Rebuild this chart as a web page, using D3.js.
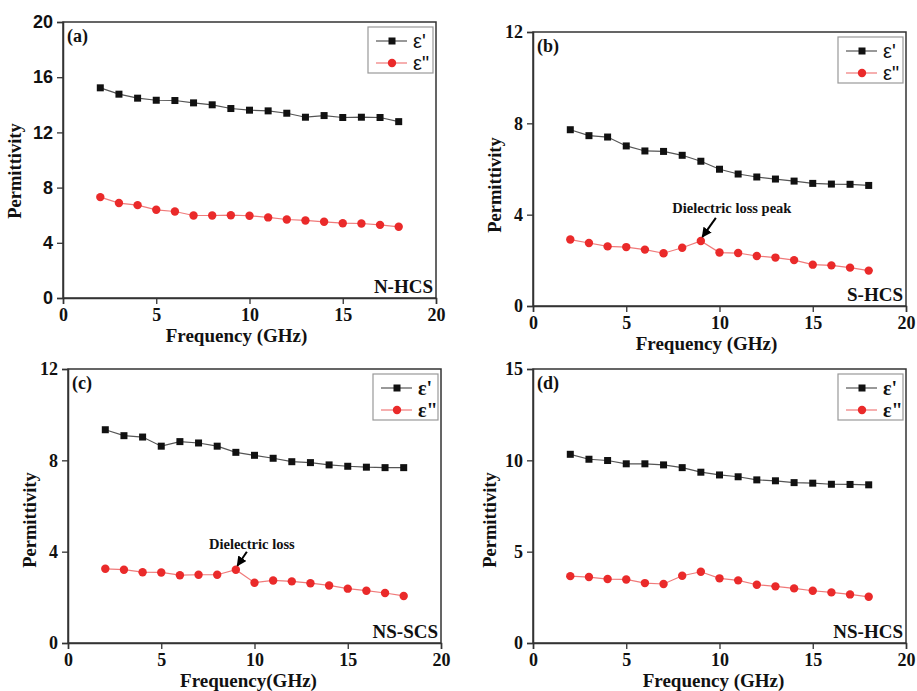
<!DOCTYPE html>
<html><head><meta charset="utf-8">
<script src="https://cdn.jsdelivr.net/npm/d3@7"></script>
<style>body{margin:0;background:#fff}svg{display:block}</style>
</head><body>
<svg id="chart" width="917" height="691"></svg>
<script>
const freq = [2,3,4,5,6,7,8,9,10,11,12,13,14,15,16,17,18];
const xTicks = [0,5,10,15,20];
// (a) N-HCS
const aReal = [15.23,14.77,14.48,14.33,14.31,14.14,14.0,13.73,13.61,13.56,13.39,13.1,13.22,13.08,13.1,13.08,12.78];
const aImag = [7.31,6.88,6.73,6.39,6.27,5.98,5.98,6.0,5.96,5.84,5.69,5.62,5.52,5.42,5.4,5.3,5.16];
const aYTicks = [0,4,8,12,16,20];
// (b) S-HCS
const bReal = [7.72,7.46,7.40,7.01,6.79,6.77,6.6,6.34,5.99,5.78,5.65,5.56,5.47,5.37,5.34,5.33,5.28];
const bImag = [2.91,2.76,2.61,2.58,2.47,2.31,2.55,2.85,2.34,2.32,2.19,2.12,2.01,1.81,1.78,1.68,1.55];
const bYTicks = [0,4,8,12];
// (c) NS-SCS
const cReal = [9.34,9.08,9.02,8.62,8.82,8.76,8.62,8.35,8.22,8.09,7.94,7.9,7.8,7.74,7.7,7.68,7.68];
const cImag = [3.25,3.21,3.1,3.09,2.97,2.99,2.99,3.21,2.64,2.74,2.7,2.62,2.52,2.38,2.29,2.19,2.06];
const cYTicks = [0,4,8,12];
// (d) NS-HCS
const dReal = [10.33,10.06,9.99,9.81,9.81,9.75,9.6,9.35,9.2,9.1,8.93,8.88,8.78,8.75,8.69,8.68,8.66];
const dImag = [3.66,3.61,3.5,3.48,3.28,3.23,3.68,3.9,3.54,3.43,3.19,3.1,2.99,2.86,2.77,2.66,2.53];
const dYTicks = [0,5,10,15];

const seriesNames = ["ε'", 'ε"'];
const panelLetters = ["(a)","(b)","(c)","(d)"];
const sampleNames = ["N-HCS","S-HCS","NS-SCS","NS-HCS"];
const xTitles = ["Frequency (GHz)","Frequency (GHz)","Frequency(GHz)","Frequency (GHz)"];

const SERIF = "'Liberation Serif','Times New Roman',serif";
const SANS = "'Liberation Sans',Arial,sans-serif";

const panels = [
  {real:aReal, imag:aImag, yTicks:aYTicks, ymax:20, box:[63,436,22,298], tickFont:SANS, legFont:SANS, legBold:false,
    ytBase:21, ytOff:11, xtOff:-13, xtBase:44, note:null},
  {real:bReal, imag:bImag, yTicks:bYTicks, ymax:12, box:[533,906,32,306], tickFont:SERIF, legFont:SANS, legBold:false,
    ytBase:501, ytOff:16, xtOff:-13, xtBase:44,
    note:{text:"Dielectric loss peak", idx:7, dx:15, dy:-23, tx:31, ty:-28, fs:14.5}},
  {real:cReal, imag:cImag, yTicks:cYTicks, ymax:12, box:[68,441,369,643], tickFont:SERIF, legFont:SERIF, legBold:true,
    ytBase:36, ytOff:14, xtOff:-6, xtBase:44,
    note:{text:"Dielectric loss", idx:7, dx:11, dy:-18, tx:16, ty:-21, fs:14.5}},
  {real:dReal, imag:dImag, yTicks:dYTicks, ymax:15, box:[533,906,369,643], tickFont:SERIF, legFont:SERIF, legBold:true,
    ytBase:496, ytOff:14, xtOff:-6, xtBase:44, note:null}
];

const svg = d3.select("#chart");
const defs = svg.append("defs");
defs.append("marker").attr("id","arr").attr("viewBox","0 0 10 10").attr("refX",9).attr("refY",5)
  .attr("markerWidth",5).attr("markerHeight",5).attr("orient","auto-start-reverse")
  .append("path").attr("d","M0,0 L10,5 L0,10 z").attr("fill","#000");

const blackLine = "#555", blackMark = "#111", redLine = "#f07a7a", redMark = "#ea2a2a";

panels.forEach((p, i) => {
  const [L,R,T,B] = p.box;
  const x = d3.scaleLinear().domain([0,20]).range([L,R]);
  const y = d3.scaleLinear().domain([0,p.ymax]).range([B,T]);
  const g = svg.append("g");

  // frame
  g.append("rect").attr("x",L).attr("y",T).attr("width",R-L).attr("height",B-T)
    .attr("fill","none").attr("stroke","#333").attr("stroke-width",1.5);

  const xAxis = g.append("g").attr("transform",`translate(0,${B})`)
    .call(d3.axisBottom(x).tickValues(xTicks).tickSize(6).tickPadding(4));
  xAxis.select(".domain").attr("stroke","#333").attr("stroke-width",1.5);
  xAxis.selectAll(".tick line").attr("stroke","#333").attr("stroke-width",1.3);
  xAxis.selectAll("text").attr("font-family",SERIF).attr("font-weight","bold").attr("font-size",18).attr("fill","#111");

  const yAxis = g.append("g").attr("transform",`translate(${L},0)`)
    .call(d3.axisLeft(y).tickValues(p.yTicks).tickSize(6).tickPadding(4));
  yAxis.select(".domain").attr("stroke","#333").attr("stroke-width",1.5);
  yAxis.selectAll(".tick line").attr("stroke","#333").attr("stroke-width",1.3);
  yAxis.selectAll("text").attr("font-family",p.tickFont).attr("font-weight","bold").attr("font-size",18).attr("fill","#111");

  // axis titles
  g.append("text").attr("x",(L+R)/2+p.xtOff).attr("y",B+p.xtBase).attr("text-anchor","middle")
    .attr("font-family",SERIF).attr("font-weight","bold").attr("font-size",19).attr("fill","#111").text(xTitles[i]);
  g.append("text").attr("transform",`translate(${p.ytBase},${(T+B)/2+p.ytOff}) rotate(-90)`).attr("text-anchor","middle")
    .attr("font-family",SERIF).attr("font-weight","bold").attr("font-size",18.5).attr("fill","#111").text("Permittivity");

  // panel letter and sample name
  g.append("text").attr("x",L+4).attr("y",T+20).attr("font-family",SERIF).attr("font-weight","bold")
    .attr("font-size",18).attr("fill","#111").text(panelLetters[i]);
  g.append("text").attr("x",R-3).attr("y",B-5).attr("text-anchor","end").attr("font-family",SERIF).attr("font-weight","bold")
    .attr("font-size",19).attr("fill","#111").text(sampleNames[i]);

  const line = d3.line().x((d,k)=>x(freq[k])).y(d=>y(d));
  g.append("path").datum(p.real).attr("d",line).attr("fill","none").attr("stroke",blackLine).attr("stroke-width",1.2);
  g.append("path").datum(p.imag).attr("d",line).attr("fill","none").attr("stroke",redLine).attr("stroke-width",1.2);
  g.selectAll(".sq").data(p.real).enter().append("rect")
    .attr("x",(d,k)=>x(freq[k])-3.5).attr("y",d=>y(d)-3.5).attr("width",7).attr("height",7).attr("fill",blackMark);
  g.selectAll(".ci").data(p.imag).enter().append("circle")
    .attr("cx",(d,k)=>x(freq[k])).attr("cy",d=>y(d)).attr("r",4.2).attr("fill",redMark);

  // legend
  const lx = R-68, ly = T+5;
  g.append("rect").attr("x",lx).attr("y",ly).attr("width",65).attr("height",46)
    .attr("fill","#fff").attr("stroke","#999").attr("stroke-width",1.2);
  [[blackLine,blackMark,"sq"],[redLine,redMark,"ci"]].forEach((s,k)=>{
    const yy = ly + 14 + k*22;
    g.append("line").attr("x1",lx+8).attr("x2",lx+39).attr("y1",yy).attr("y2",yy).attr("stroke",s[0]).attr("stroke-width",1.2);
    if (s[2]==="sq") g.append("rect").attr("x",lx+20.5).attr("y",yy-3.5).attr("width",7).attr("height",7).attr("fill",s[1]);
    else g.append("circle").attr("cx",lx+24).attr("cy",yy).attr("r",4.2).attr("fill",s[1]);
    g.append("text").attr("x",lx+45).attr("y",yy+7).attr("font-family",p.legFont).attr("font-weight",p.legBold?"bold":"normal")
      .attr("font-size",20).attr("fill","#111").text(seriesNames[k]);
  });

  // annotation
  if (p.note) {
    const px = x(freq[p.note.idx]), py = y(p.imag[p.note.idx]);
    g.append("line").attr("x1",px+p.note.dx).attr("y1",py+p.note.dy).attr("x2",px+1.5).attr("y2",py-4)
      .attr("stroke","#000").attr("stroke-width",2).attr("marker-end","url(#arr)");
    g.append("text").attr("x",px+p.note.tx).attr("y",py+p.note.ty).attr("text-anchor","middle")
      .attr("font-family",SERIF).attr("font-weight","bold").attr("font-size",p.note.fs).attr("fill","#111").text(p.note.text);
  }
});
</script>
</body></html>
